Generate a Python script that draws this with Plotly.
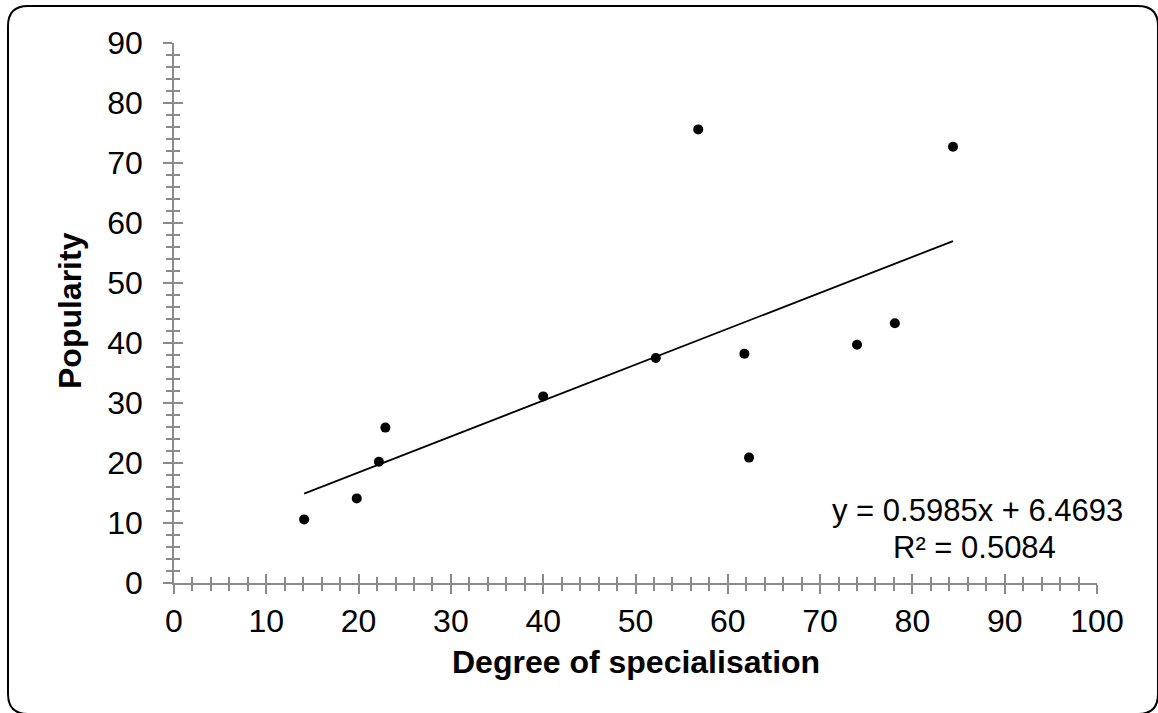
import plotly.graph_objects as go

# Data
specialisation = [14.1, 19.8, 22.2, 22.9, 40.0, 52.2, 56.8, 61.8, 62.3, 74.0, 78.1, 84.4]
popularity = [10.6, 14.1, 20.2, 25.9, 31.1, 37.5, 75.6, 38.2, 20.9, 39.7, 43.3, 72.7]
trend_slope = 0.5985
trend_intercept = 6.4693
r_squared = 0.5084
x_title = "Degree of specialisation"
y_title = "Popularity"

W, H = 1158, 713
L, R, T, B = 174, 61, 43, 130
PW, PH = W - L - R, H - T - B

def px_x(px):
    return (px - L) / PW

def px_y(py):
    return (H - B - py) / PH

FONT = "Liberation Sans, Arial, sans-serif"
AXC = "#8a8a8a"

x_lo, x_hi = min(specialisation), max(specialisation)
trend_x = [x_lo, x_hi]
trend_y = [trend_slope * v + trend_intercept for v in trend_x]

fig = go.Figure()
fig.add_trace(go.Scatter(x=trend_x, y=trend_y, mode="lines",
                         line=dict(color="black", width=1.8), hoverinfo="skip"))
fig.add_trace(go.Scatter(x=specialisation, y=popularity, mode="markers",
                         marker=dict(color="black", size=10)))
# empty trace so the overlaid (inside-tick) axes are rendered
fig.add_trace(go.Scatter(x=[], y=[], xaxis="x2", yaxis="y2", mode="markers"))

common = dict(showgrid=False, zeroline=False, showline=True, linecolor=AXC,
              linewidth=1.5, tickcolor=AXC, tickwidth=1.5)

fig.update_layout(
    width=W, height=H,
    margin=dict(l=L, r=R, t=T, b=B, pad=0),
    paper_bgcolor="white", plot_bgcolor="white",
    showlegend=False,
    font=dict(family=FONT, color="black", size=32),
    xaxis=dict(range=[0, 100], dtick=10, tick0=0, ticks="outside", ticklen=9,
               minor=dict(dtick=2, ticks="outside", ticklen=6, tickcolor=AXC, tickwidth=1.5),
               tickfont=dict(size=32), ticklabelstandoff=0, **common),
    yaxis=dict(range=[0, 90], dtick=10, tick0=0, ticks="outside", ticklen=9,
               minor=dict(dtick=2, ticks="outside", ticklen=6, tickcolor=AXC, tickwidth=1.5),
               tickfont=dict(size=32), ticklabelstandoff=14, **common),
    xaxis2=dict(range=[0, 100], dtick=10, tick0=0, ticks="inside", ticklen=9,
                minor=dict(dtick=2, ticks="inside", ticklen=6, tickcolor=AXC, tickwidth=1.5),
                overlaying="x", anchor="y", showticklabels=False, **common),
    yaxis2=dict(range=[0, 90], dtick=10, tick0=0, ticks="inside", ticklen=9,
                minor=dict(dtick=2, ticks="inside", ticklen=6, tickcolor=AXC, tickwidth=1.5),
                overlaying="y", anchor="x", showticklabels=False, **common),
)

# Axis titles
fig.add_annotation(text="<b>%s</b>" % x_title, xref="paper", yref="paper",
                   x=0.5, y=px_y(662), xanchor="center", yanchor="middle",
                   showarrow=False, font=dict(size=32, family=FONT))
fig.add_annotation(text="<b>%s</b>" % y_title, xref="paper", yref="paper",
                   x=px_x(70), y=px_y(311), xanchor="center", yanchor="middle",
                   textangle=-90, showarrow=False, font=dict(size=32, family=FONT))

# Trendline equation (two lines)
fig.add_annotation(text="y = %.4fx + %.4f" % (trend_slope, trend_intercept),
                   xref="paper", yref="paper", x=px_x(977), y=px_y(510),
                   xanchor="center", yanchor="middle",
                   showarrow=False, font=dict(size=31, family=FONT))
fig.add_annotation(text="R² = %.4f" % r_squared,
                   xref="paper", yref="paper", x=px_x(974), y=px_y(547),
                   xanchor="center", yanchor="middle",
                   showarrow=False, font=dict(size=31, family=FONT))

# Rounded chart border (partly cropped at right/bottom like the reference)
bl, bt, br, bb, rad = 8, 6, 1158, 714, 20
def P(a, b):
    return "%f,%f" % (px_x(a), px_y(b))
path = ("M " + P(bl + rad, bt) + " L " + P(br - rad, bt) + " Q " + P(br, bt) + " " + P(br, bt + rad) +
        " L " + P(br, bb - rad) + " Q " + P(br, bb) + " " + P(br - rad, bb) +
        " L " + P(bl + rad, bb) + " Q " + P(bl, bb) + " " + P(bl, bb - rad) +
        " L " + P(bl, bt + rad) + " Q " + P(bl, bt) + " " + P(bl + rad, bt) + " Z")
fig.add_shape(type="path", path=path, xref="paper", yref="paper",
              line=dict(color="black", width=2), layer="above")

fig.write_html("out.html", config={"displayModeBar": False},
               post_script="document.body.style.margin='0px';")
